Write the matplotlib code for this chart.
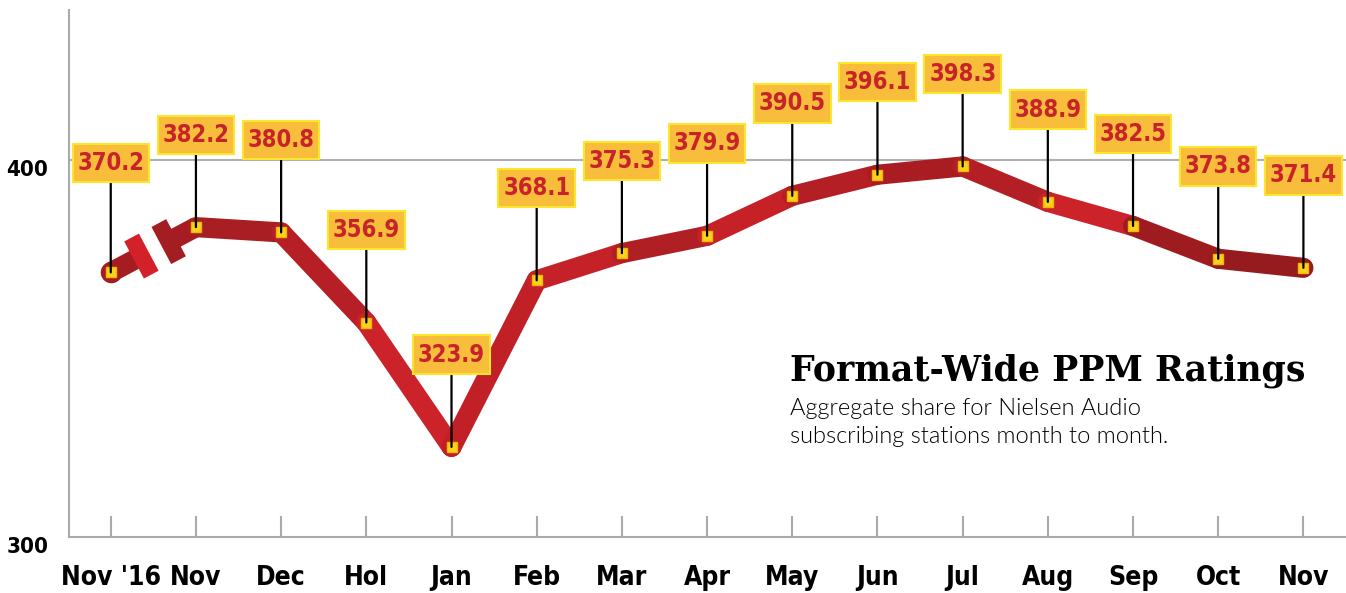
import numpy as np
import matplotlib
matplotlib.use("Agg")
import matplotlib.pyplot as plt
from matplotlib.path import Path

# data
months = ["Nov '16", "Nov", "Dec", "Hol", "Jan", "Feb", "Mar", "Apr",
          "May", "Jun", "Jul", "Aug", "Sep", "Oct", "Nov"]
ratings = [370.2, 382.2, 380.8, 356.9, 323.9, 368.1, 375.3, 379.9,
           390.5, 396.1, 398.3, 388.9, 382.5, 373.8, 371.4]
label_lift = [29, 24.5, 24.5, 24.5, 24.5, 24.5, 24.5, 24.5,
              24.5, 24.5, 24.5, 24.5, 24.5, 24.5, 24.5]
seg_colors = ['#a51d22', '#a81e23', '#b51f25', '#cc2229', '#c22027', '#c52128',
              '#b01f24', '#c72128', '#b31f24', '#a91d22', '#b31f24', '#cc2229',
              '#9e1c20', '#951b1f']


def tall_box(x0, y0, width, height, mutation_size):
    # rectangle with more padding top/bottom than left/right
    px, py = 0.2 * mutation_size, 0.3 * mutation_size
    x0, y0 = x0 - px, y0 - py
    x1, y1 = x0 + width + 2 * px, y0 + height + 2 * py
    return Path([(x0, y0), (x1, y0), (x1, y1), (x0, y1), (x0, y0)], closed=True)


W, H = 1346, 593
fig = plt.figure(figsize=(W / 100, H / 100), dpi=100)
ax = fig.add_axes([69 / W, 56 / H, 1 - 69 / W, (537 - 10) / H])
x = np.arange(len(months))
ax.set_xlim(-0.49, 14.5)
ax.set_ylim(300, 439.8)

for s in ['top', 'right']:
    ax.spines[s].set_visible(False)
for s in ['left', 'bottom']:
    ax.spines[s].set_color('#aaaaaa')
    ax.spines[s].set_linewidth(1.5)
ax.axhline(400, color='#b0b0b0', lw=1.5, zorder=1)

cond = dict(fontfamily='DejaVu Sans', fontstretch='condensed', fontweight='bold')
ax.set_xticks(x)
ax.set_xticklabels(months, fontsize=19, **cond)
ax.tick_params(axis='x', direction='in', length=15, width=1.5, color='#aaaaaa', pad=20)
ax.set_yticks([300, 400])
ax.set_yticklabels(['300', '400'], fontsize=16, **cond)
ax.tick_params(axis='y', length=0, pad=15)
for t in ax.get_yticklabels():
    t.set_va('top')

lw = 14.5
# segment 0-1 with a break
fig.canvas.draw()
to_px = ax.transData.transform
to_data = ax.transData.inverted().transform
p0 = to_px((x[0], ratings[0]))
p1 = to_px((x[1], ratings[1]))
d = p1 - p0
L = np.hypot(*d)
u = d / L
nrm = np.array([u[1], -u[0]])
a_end = to_data(p0 + u * L * 0.33)
b_start = to_data(p0 + u * L * 0.71)
ax.plot([x[0], a_end[0]], [ratings[0], a_end[1]], color=seg_colors[0], lw=lw,
        solid_capstyle='butt', zorder=2)
ax.plot([x[0]], [ratings[0]], 'o', color=seg_colors[0], markersize=lw, zorder=2)
ax.plot([b_start[0], x[1]], [b_start[1], ratings[1]], color=seg_colors[0], lw=lw,
        solid_capstyle='butt', zorder=2)
for frac, col in [(0.36, '#d42029'), (0.68, '#a31d22')]:
    c = p0 + u * L * frac
    e1 = to_data(c + nrm * 21)
    e2 = to_data(c - nrm * 21)
    ax.plot([e1[0], e2[0]], [e1[1], e2[1]], color=col, lw=12,
            solid_capstyle='butt', zorder=3)

for i in range(1, len(x) - 1):
    ax.plot(x[i:i + 2], ratings[i:i + 2], color=seg_colors[i], lw=lw,
            solid_capstyle='round', zorder=2)

ax.plot(x, ratings, 's', color='#f9d21f', markeredgecolor='#f2b705',
        markersize=7, markeredgewidth=1, zorder=4)

for xi, v, lift in zip(x, ratings, label_lift):
    ax.annotate(f'{v:.1f}', xy=(xi, v), xytext=(xi, v + lift),
                ha='center', va='center', fontsize=17, color='#c8232b', zorder=5,
                bbox=dict(boxstyle=tall_box, fc='#f8bd3a', ec='#fbe62e', lw=1.5),
                arrowprops=dict(arrowstyle='-', color='black', lw=1.6,
                                shrinkA=0, shrinkB=0), **cond)

fig.text(790 / W, 1 - 381 / H, 'Format-Wide PPM Ratings', fontfamily='DejaVu Serif',
         fontweight='bold', fontsize=25, va='baseline', ha='left')
fig.text(790 / W, 1 - 398 / H, 'Aggregate share for Nielsen Audio\nsubscribing stations month to month.',
         fontfamily='Lato', fontweight=300, fontsize=17, va='top', ha='left', linespacing=1.4)

fig.savefig('out.png', dpi=100)
